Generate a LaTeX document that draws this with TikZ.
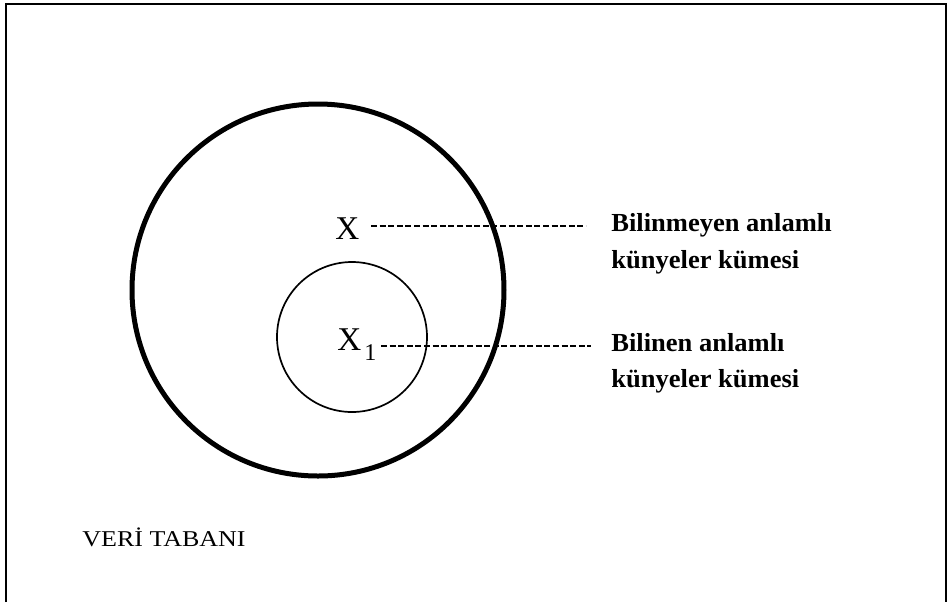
\documentclass[tikz,border=0pt]{standalone}
\usepackage{fontspec}
\setmainfont{Liberation Serif}
\newfontfamily\widefont[FakeStretch=1.15]{Liberation Serif}
\newfontfamily\labfont[FakeStretch=1.02]{Liberation Serif}
\begin{document}
\begin{tikzpicture}[x=0.5pt,y=-0.5pt,
  setlabel/.style={anchor=base west, inner sep=0pt, font=\labfont\bfseries\fontsize{13}{13}\selectfont},
  xlabel/.style={anchor=base west, inner sep=0pt, font=\fontsize{16.6}{16.6}\selectfont},
  dashline/.style={line width=1.15pt, dash pattern=on 3pt off 1.3pt},
  framestyle/.style={line width=1.1pt}]
\fill[white] (0,0) rectangle (950,602);
\useasboundingbox (0,0) rectangle (950,602);
% frame (open at bottom)
\coordinate (fbl) at (6,602);
\coordinate (ftl) at (6,4);
\coordinate (ftr) at (946,4);
\coordinate (fbr) at (946,602);
\draw[framestyle] (fbl) -- (ftl) -- (ftr) -- (fbr);
% circles
\node[draw, circle, line width=2.5pt, minimum size=186pt, inner sep=0pt] (big) at (318,290) {};
\node[draw, circle, line width=0.85pt, minimum size=75pt, inner sep=0pt] (small) at (352,337) {};
% labels inside
\node[xlabel] (x) at (335,239) {X};
\node[xlabel] (x1) at (337,350) {X\hspace{1.5pt}\raisebox{-5pt}{\fontsize{12}{12}\selectfont 1}};
% right labels
\node[setlabel] (l1a) at (611,231) {Bilinmeyen anlamlı};
\node[setlabel] (l1b) at (611,268.5) {künyeler kümesi};
\node[setlabel] (l2a) at (611,351) {Bilinen anlamlı};
\node[setlabel] (l2b) at (611,387) {künyeler kümesi};
% dashed leaders
\coordinate (d1s) at (371,226);
\coordinate (d1e) at (586,226);
\coordinate (d2s) at (381,346);
\coordinate (d2e) at (591,346);
\draw[dashline] (d1s) -- (d1e);
\draw[dashline] (d2s) -- (d2e);
% bottom label
\node[anchor=base west, inner sep=0pt, font=\widefont\fontsize{11.3}{11.3}\selectfont] (db) at (82,546.7) {VERİ TABANI};
\end{tikzpicture}
\end{document}
